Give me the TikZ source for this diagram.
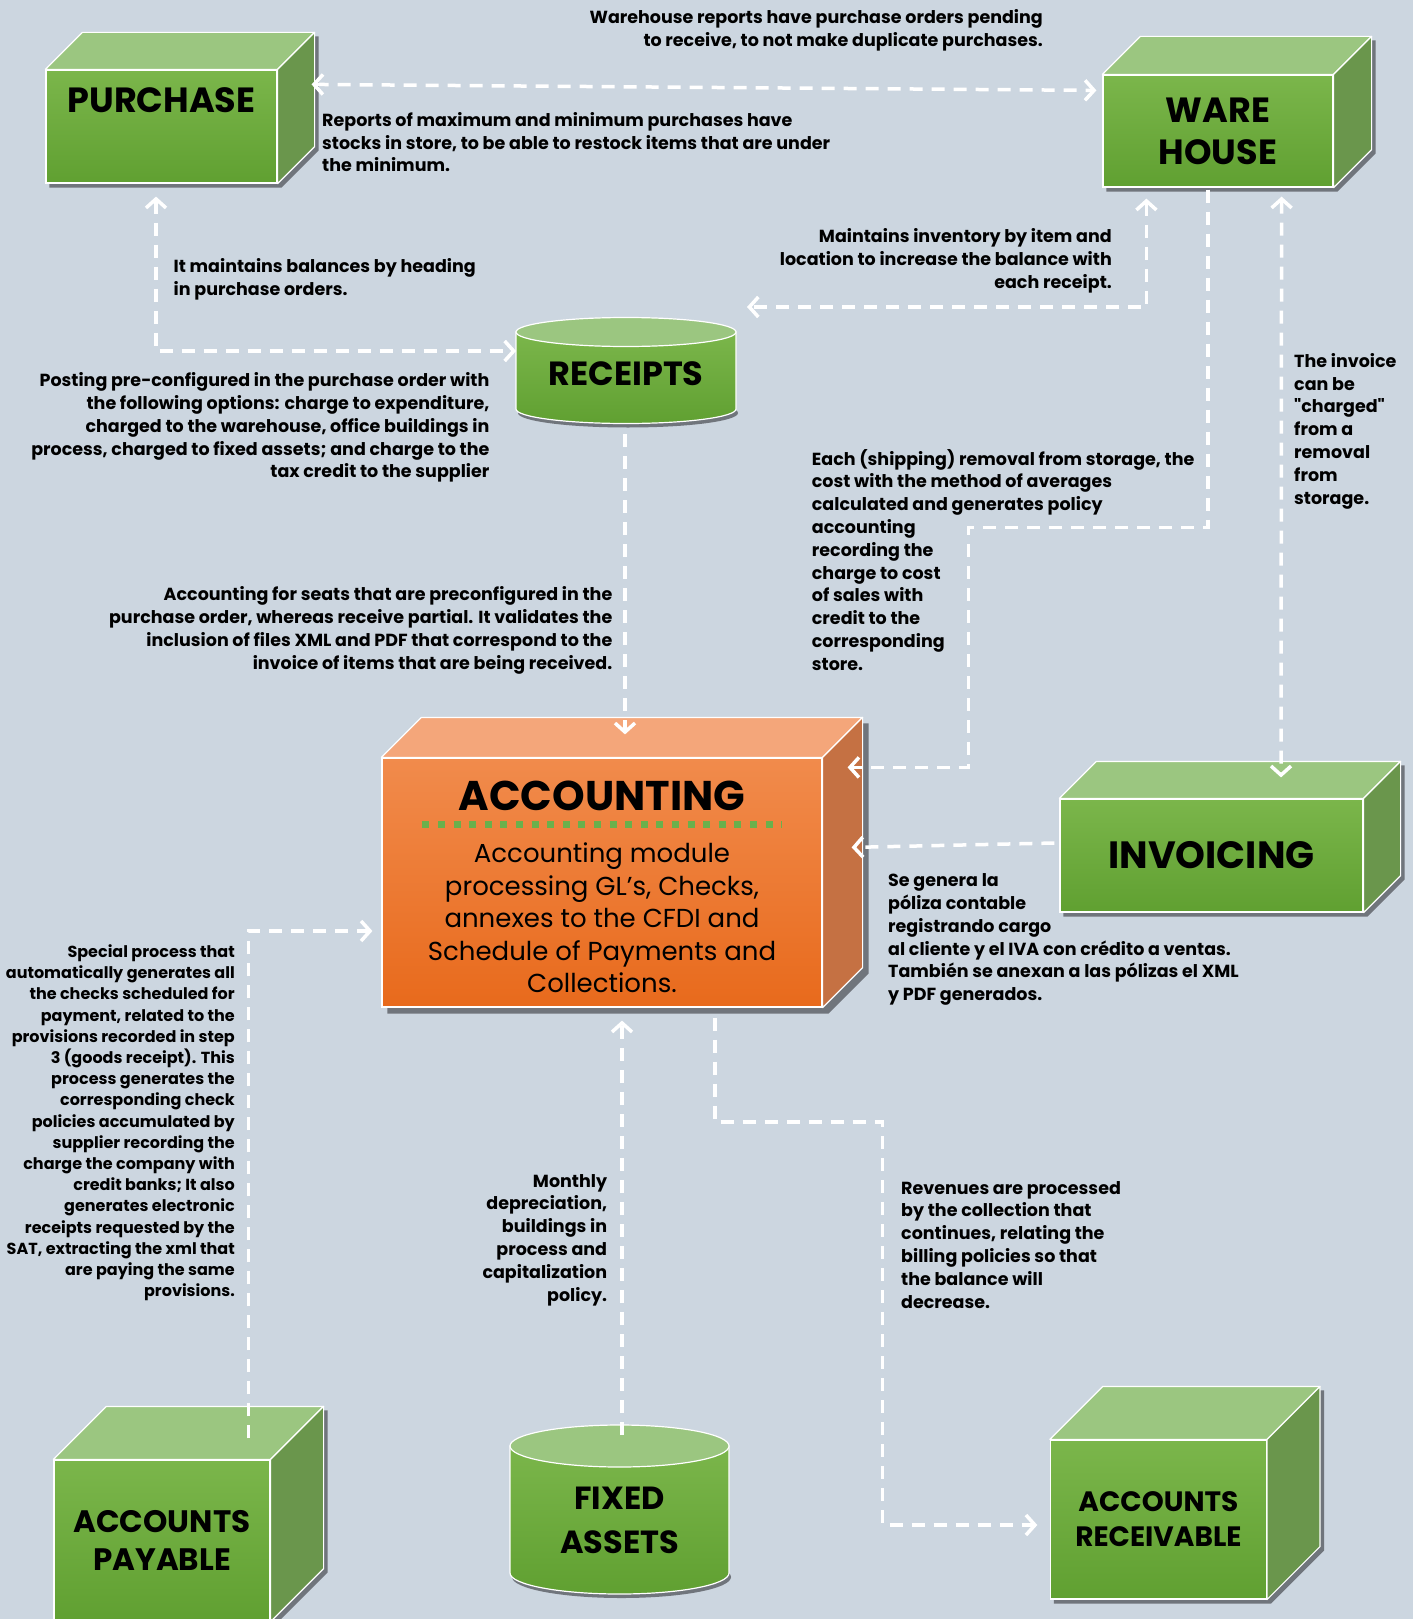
\documentclass[tikz,border=0pt]{standalone}
\usepackage{fontspec}
\setmainfont{Poppins}[Ligatures=TeXOff]
\usetikzlibrary{arrows.meta,calc}
\definecolor{bgblue}{RGB}{204,214,224}
\definecolor{gtop}{RGB}{123,182,75}
\definecolor{gbot}{RGB}{96,160,49}
\definecolor{gtopface}{RGB}{155,198,128}
\definecolor{gside}{RGB}{106,150,76}
\definecolor{otop}{RGB}{241,139,76}
\definecolor{obot}{RGB}{232,106,28}
\definecolor{otopface}{RGB}{244,166,122}
\definecolor{oside}{RGB}{197,113,67}
\definecolor{shadowgray}{RGB}{112,117,124}
\definecolor{dotgreen}{RGB}{106,176,76}
\pgfdeclarelayer{back}
\pgfdeclarelayer{faces}
\pgfsetlayers{back,faces,main}

\newcommand\cubesides[4]{%
\begin{pgfonlayer}{back}
\fill[shadowgray] ($(#1.south west)+(#4,#4)$) -- ($(#1.south east)+(#4,#4)$)
  -- ($(#1.south east)+(#2+#4,#4-#2)$) -- ($(#1.north east)+(#2+#4,#4-#2)$)
  -- ($(#1.north west)+(#2+#4,#4-#2)$) -- ($(#1.north west)+(#4,#4)$) -- cycle;
\end{pgfonlayer}
\filldraw[draw=white,line width=1.2pt,line join=round,fill=#3topface] (#1.north west)
  -- ($(#1.north west)+(#2,-#2)$) -- ($(#1.north east)+(#2,-#2)$) -- (#1.north east) -- cycle;
\filldraw[draw=white,line width=1.2pt,line join=round,fill=#3side] (#1.north east)
  -- ($(#1.north east)+(#2,-#2)$) -- ($(#1.south east)+(#2,-#2)$) -- (#1.south east) -- cycle;
}
\newcommand\drumsides[5]{%
\begin{pgfonlayer}{back}
\fill[shadowgray] ($(#1.center)+(2,#5+4)$) ellipse[x radius=#2pt,y radius=#3pt];
\end{pgfonlayer}
\begin{pgfonlayer}{faces}
\path[draw=white,line width=1.2pt,top color=gtop,bottom color=gbot] ($(#1.center)+(-#2,#4)$) -- ($(#1.center)+(-#2,#5)$)
  arc[start angle=180,end angle=360,x radius=#2pt,y radius=#3pt] -- ($(#1.center)+(#2,#4)$) -- cycle;
\filldraw[draw=white,line width=1.2pt,fill=gtopface] ($(#1.center)+(0,#4)$) ellipse[x radius=#2pt,y radius=#3pt];
\end{pgfonlayer}
}

\begin{document}
\begin{tikzpicture}[x=1pt,y=-1pt,
  >={Straight Barb[length=9pt,width=20pt]},
  face/.style={draw=white,line width=1.2pt,inner sep=0pt,align=center,font=\bfseries\fontsize{35}{42}\selectfont},
  greenface/.style={face,top color=gtop,bottom color=gbot},
  drum/.style={inner sep=0pt,align=center,font=\bfseries\fontsize{32}{44}\selectfont},
  flow/.style={draw=white,line width=3.5pt,dash pattern=on 13pt off 9pt},
  note/.style={inner sep=0pt,font=\bfseries\fontsize{17.5}{22.8}\selectfont}
]
\useasboundingbox (0,0) rectangle (1413,1619);
\begin{pgfonlayer}{back}
\fill[bgblue] (0,0) rectangle (1413,1619);
\end{pgfonlayer}

\node[greenface,minimum width=231,minimum height=113,text depth=53] (purchase) at (161.5,126.5) {PURCHASE};
\node[greenface,minimum width=230,minimum height=112] (warehouse) at (1218,131) {WARE\\HOUSE};
\node[drum,font=\bfseries\fontsize{33.5}{40}\selectfont] (receipts) at (626,373.5) {RECEIPTS};
\node[face,font=\fontsize{26}{32.5}\selectfont,top color=otop,bottom color=obot,minimum width=440,minimum height=249] (accounting) at (602,882.5)
  {\rule{0pt}{38.5pt}{\bfseries\fontsize{41.5}{50}\selectfont ACCOUNTING}\\[20pt]Accounting module\\processing GL’s, Checks,\\annexes to the CFDI and\\Schedule of Payments and\\Collections.};
\node[greenface,minimum width=303,minimum height=113,font=\bfseries\fontsize{38}{42}\selectfont] (invoicing) at (1211.5,855.5) {INVOICING};
\node[greenface,minimum width=216,minimum height=161,font=\bfseries\fontsize{31}{38}\selectfont] (payable) at (162,1540.5) {ACCOUNTS\\PAYABLE};
\node[drum] (fixed) at (619.5,1520) {FIXED\\ASSETS};
\node[greenface,minimum width=216,minimum height=159,font=\bfseries\fontsize{28}{35}\selectfont] (receivable) at (1158.4,1519.5) {ACCOUNTS\\RECEIVABLE};

\cubesides{purchase}{37}{g}{4}
\cubesides{warehouse}{38}{g}{4}
\cubesides{accounting}{40}{o}{6}
\cubesides{invoicing}{37}{g}{4}
\cubesides{payable}{53}{g}{4}
\cubesides{receivable}{53}{g}{4}
\drumsides{receipts}{110}{14.5}{-41.5}{35.5}
\drumsides{fixed}{109.5}{21}{-74}{53}
\draw[dotgreen,line width=6.5pt,dash pattern=on 7pt off 8.6pt] ($(accounting.north west)+(41,67)$) -- ($(accounting.north west)+(401,67)$);

\draw[flow,<->] ($(purchase.north east)+(34,15)$) -- ($(warehouse.north west)+(-6,16)$);
\draw[flow,<->] ($(purchase.south)+(-5.5,13)$) |- ($(receipts.center)+(-110,-22.5)$);
\draw[flow,<->] ($(warehouse.south west)+(44,11)$) |- ($(receipts.center)+(121,-66.5)$);
\draw[flow,->] ($(receipts.center)+(-1,60.5)$) -- ($(accounting.north)+(23,-23)$);
\draw[flow,->] ($(warehouse.south)+(-10,2)$) |- ($(accounting.north east)+(146,-230)$) |- ($(accounting.north east)+(25,10)$);
\draw[flow,<->] ($(warehouse.south east)+(-52,9)$) -- ($(invoicing.north)+(69.5,-21)$);
\draw[flow,->] ($(invoicing.west)+(-5,-12.5)$) -- ($(accounting.north east)+(29,90)$);
\draw[flow,->] ($(payable.north west)+(195,-21)$) |- ($(accounting.west)+(-9,48.5)$);
\draw[flow,->] ($(fixed.center)+(2.5,-85)$) -- ($(accounting.south)+(20,13)$);
\draw[flow,->] ($(accounting.south)+(113,10)$) |- ($(receivable.west)+(-167.5,-397.5)$) |- ($(receivable.west)+(-12.5,5.5)$);

\node[note,align=right,anchor=north east] (wh-note) at (1043,9)
  {Warehouse reports have purchase orders pending\\to receive, to not make duplicate purchases.};
\node[note,align=left,anchor=north west] (max-note) at (322,112)
  {Reports of maximum and minimum purchases have\\stocks in store, to be able to restock items that are under\\the minimum.};
\node[note,align=left,anchor=north west] (bal-note) at (173.5,258)
  {It maintains balances by heading\\in purchase orders.};
\node[note,align=right,anchor=north east] (inv-note) at (1112,228.5)
  {Maintains inventory by item and\\location to increase the balance with\\each receipt.};
\node[note,align=right,anchor=north east] (post-note) at (489.6,372.5)
  {Posting pre-configured in the purchase order with\\the following options: charge to expenditure,\\charged to the warehouse, office buildings in\\process, charged to fixed assets; and charge to the\\tax credit to the supplier};
\node[note,align=left,anchor=north west] (charge-note) at (1294,353)
  {The invoice\\can be\\"charged"\\from a\\removal\\from\\storage.};
\node[note,align=left,anchor=north west] (cost-note) at (811.7,449)
  {Each (shipping) removal from storage, the\\cost with the method of averages\\calculated and generates policy\\accounting\\recording the\\charge to cost\\of sales with\\credit to the\\corresponding\\store.};
\node[note,align=right,anchor=north east] (seat-note) at (612.5,586.5)
  {Accounting for seats that are preconfigured in the\\purchase order, whereas receive partial. It validates the\\inclusion of files XML and PDF that correspond to the\\invoice of items that are being received.};
\node[note,align=left,anchor=north west] (iva-note) at (888,873.5)
  {Se genera la\\póliza contable\\registrando cargo\\al cliente y el IVA con crédito a ventas.\\También se anexan a las pólizas el XML\\y PDF generados.};
\node[note,align=right,anchor=north east,font=\bfseries\fontsize{16}{21.2}\selectfont] (pay-note) at (235,944.5)
  {Special process that\\automatically generates all\\the checks scheduled for\\payment, related to the\\provisions recorded in step\\3 (goods receipt). This\\process generates the\\corresponding check\\policies accumulated by\\supplier recording the\\charge the company with\\credit banks; It also\\generates electronic\\receipts requested by the\\SAT, extracting the xml that\\are paying the same\\provisions.};
\node[note,align=right,anchor=north east] (dep-note) at (607.3,1174)
  {Monthly\\depreciation,\\buildings in\\process and\\capitalization\\policy.};
\node[note,align=left,anchor=north west] (rev-note) at (901,1181)
  {Revenues are processed\\by the collection that\\continues, relating the\\billing policies so that\\the balance will\\decrease.};
\end{tikzpicture}
\end{document}
